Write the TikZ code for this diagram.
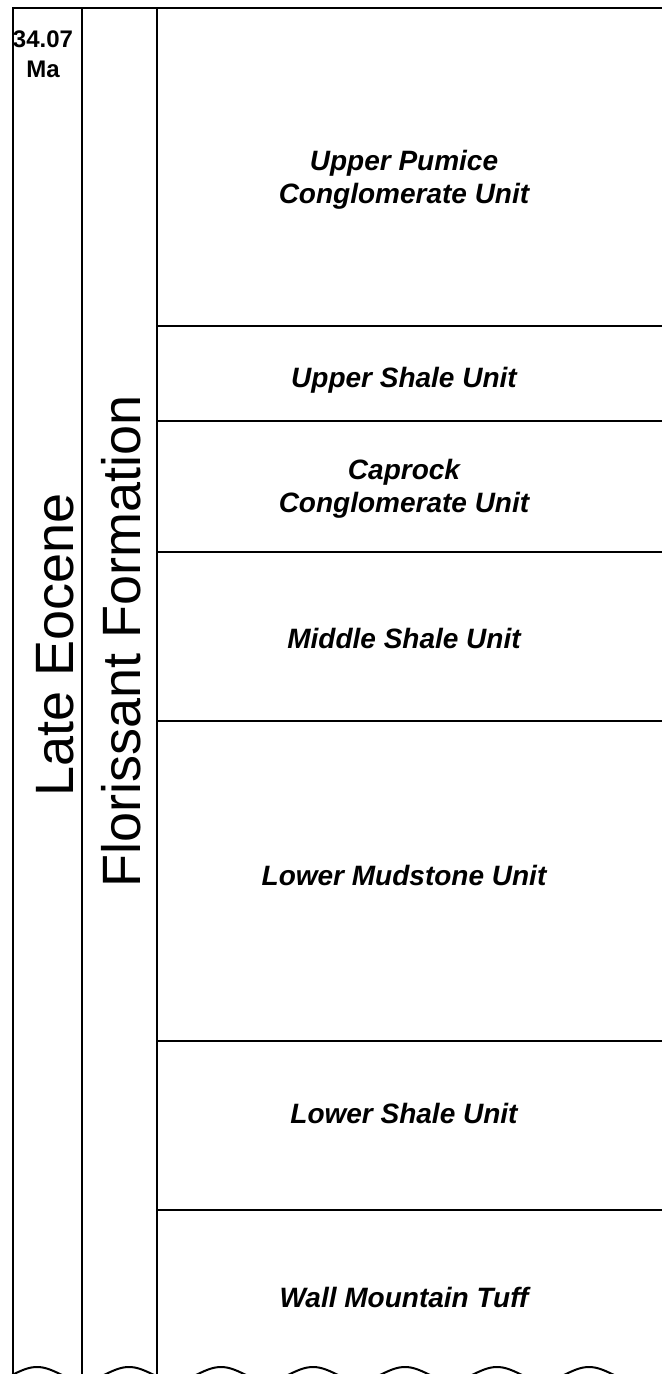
\documentclass[tikz,border=0pt]{standalone}
\usepackage{fontspec}
\setmainfont{Liberation Sans}
\usetikzlibrary{positioning}

\begin{document}
\begin{tikzpicture}[
    x=1pt, y=-1pt,
    line width=2pt,
    line join=miter,
    unitlabel/.style={align=center, inner sep=0pt, font=\fontsize{28}{33}\selectfont\bfseries\itshape},
    agelabel/.style={align=center, inner sep=0pt, font=\fontsize{24}{30}\selectfont\bfseries},
    columnlabel/.style={rotate=90, anchor=base, inner sep=0pt, font=\fontsize{54}{60}\selectfont},
    boundary/.style={line width=2pt}
]
\useasboundingbox (0,0) rectangle (662,1374);
% frame and columns
\draw (12.7,1374) -- (12.7,8) -- (662,8);
\draw (81.7,8) -- (81.7,1374);
\draw (156.7,8) -- (156.7,1374);
\foreach \yb in {326,421,552,721,1041,1210}
    \draw[boundary] (156.7,\yb) -- (662,\yb);
% unconformity
\begin{scope}
\clip (0,0) rectangle (662,1374);
\draw[domain=0:636, samples=300, smooth] plot (\x, {1374 - 7*cos(3.913*(\x-37))});
\end{scope}
% labels
\node[agelabel] (age) at (43,54) {34.07\\Ma};
\node[columnlabel] (epoch) at (73,645) {Late Eocene};
\node[columnlabel] (formation) at (140,641) {Florissant Formation};
\node[unitlabel] (upper_pumice) at (404,180) {Upper Pumice\\Conglomerate Unit};
\node[unitlabel] (upper_shale) at (404,380) {Upper Shale Unit};
\node[unitlabel] (caprock) at (404,489) {Caprock\\Conglomerate Unit};
\node[unitlabel] (middle_shale) at (404,638) {Middle Shale Unit};
\node[unitlabel] (lower_mudstone) at (404,875) {Lower Mudstone Unit};
\node[unitlabel] (lower_shale) at (404,1113) {Lower Shale Unit};
\node[unitlabel] (wall_tuff) at (404,1297) {Wall Mountain Tuff};
\end{tikzpicture}
\end{document}
